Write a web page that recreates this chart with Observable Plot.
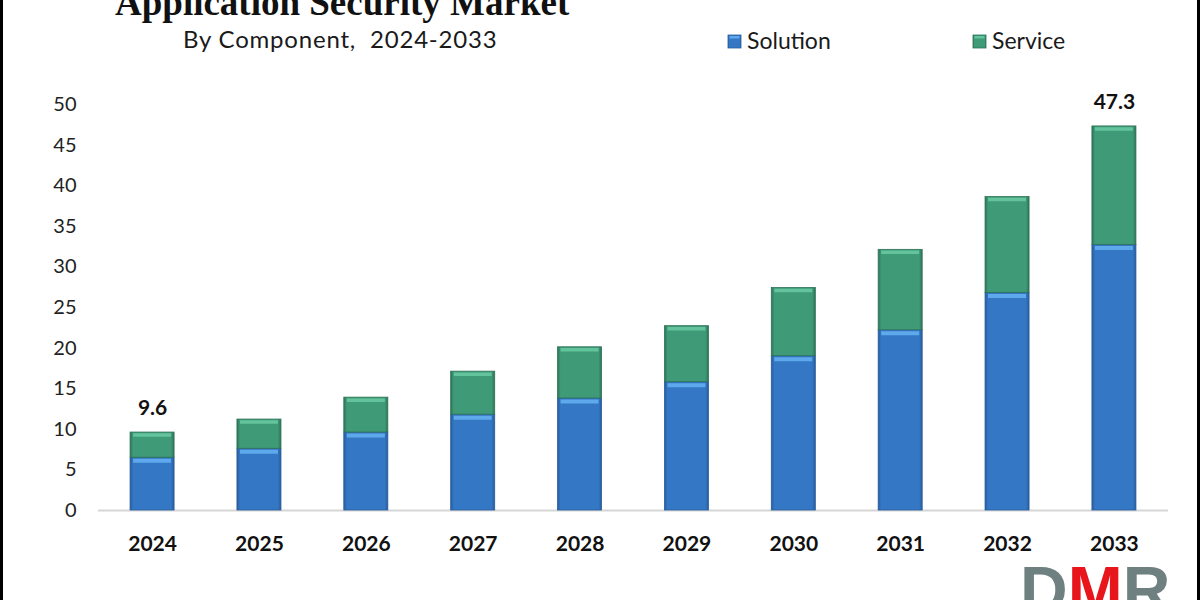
<!DOCTYPE html>
<html>
<head>
<meta charset="utf-8">
<script src="https://cdn.jsdelivr.net/npm/d3@7"></script>
<script src="https://cdn.jsdelivr.net/npm/@observablehq/plot@0.6"></script>
<style>
  html, body { margin: 0; padding: 0; background: #fff; overflow: hidden; }
  #wrap { position: relative; width: 1200px; height: 600px; overflow: hidden; background: #fff; }
  #chart { position: absolute; left: 0; top: 0; }
  #overlay { position: absolute; left: 0; top: 0; pointer-events: none; }
</style>
</head>
<body>
<div id="wrap">
  <div id="chart"></div>
  <svg id="overlay" width="1200" height="600" xmlns="http://www.w3.org/2000/svg"></svg>
</div>
<script>
// ---- data ----
const years = ["2024", "2025", "2026", "2027", "2028", "2029", "2030", "2031", "2032", "2033"];
const solution = [6.5, 7.6, 9.6, 11.8, 13.8, 15.8, 19.0, 22.2, 26.8, 32.7];
const service  = [3.1, 3.6, 4.3, 5.3, 6.3, 6.9, 8.4, 9.9, 11.8, 14.6];
const yTicks = [0, 5, 10, 15, 20, 25, 30, 35, 40, 45, 50];
const labelledYears = ["2024", "2033"];
const seriesNames = ["Solution", "Service"];
const titleText = "Application Security Market";
const subtitleText = "By Component,  2024-2033";

const rows = years.map((year, i) => ({
  year,
  solution: solution[i],
  service: service[i],
  total: Math.round((solution[i] + service[i]) * 10) / 10
}));

const C = {
  blue: "#3477c4", blueDark: "#285c9c", blueLight: "#5ea9ec",
  green: "#3f9a77", greenDark: "#2d7257", greenLight: "#63c39c"
};

// ---- overlay: gradients, title, legend, logo ----
const ov = d3.select("#overlay");
const defs = ov.append("defs");
function grad(id, dark, main) {
  const g = defs.append("linearGradient").attr("id", id)
    .attr("x1", "0").attr("x2", "1").attr("y1", "0").attr("y2", "0");
  [[0, dark], [0.07, main], [0.93, main], [1, dark]].forEach(([o, c]) =>
    g.append("stop").attr("offset", o).attr("stop-color", c));
}
grad("gBlue", C.blueDark, C.blue);
grad("gGreen", C.greenDark, C.green);

// ---- chart ----
const chart = Plot.plot({
  width: 1200,
  height: 600,
  marginTop: 104,
  marginBottom: 90,
  marginLeft: 98,
  marginRight: 32,
  style: { fontFamily: "Lato, 'Liberation Sans', sans-serif", color: "#1a1a1a", background: "transparent", overflow: "visible" },
  x: { type: "band", domain: years, paddingInner: 0.588, paddingOuter: 0.3, round: false, label: null },
  y: { domain: [0, 50], label: null },
  marks: [
    Plot.ruleY([0], { stroke: "#d6d6d6", strokeWidth: 2 }),
    Plot.barY(rows, { x: "year", y1: 0, y2: "solution", fill: "url(#gBlue)", stroke: C.blueDark, strokeWidth: 0.8 }),
    Plot.barY(rows, { x: "year", y1: "solution", y2: "total", fill: "url(#gGreen)", stroke: C.greenDark, strokeWidth: 0.8 }),
    Plot.tickY(rows, { x: "year", y: "solution", stroke: C.blueLight, strokeWidth: 4, dy: 3, inset: 3 }),
    Plot.tickY(rows, { x: "year", y: "total", stroke: C.greenLight, strokeWidth: 3.5, dy: 2.5, inset: 3 }),
    Plot.text(rows.filter(d => labelledYears.includes(d.year)), {
      x: "year", y: "total", text: d => d.total.toFixed(1), dy: -24,
      fontSize: 21, fontWeight: "bold", fill: "#111"
    }),
    Plot.axisX({ tickSize: 0, tickPadding: 26, fontSize: 21, fontWeight: "bold", fill: "#111", label: null }),
    Plot.axisY({ ticks: yTicks, tickSize: 0, tickPadding: 22, fontSize: 20, fill: "#222", label: null })
  ]
});
document.getElementById("chart").appendChild(chart);

// title & subtitle
ov.append("text").attr("x", 115).attr("y", 15)
  .attr("font-family", "'Liberation Serif', 'DejaVu Serif', serif")
  .attr("font-weight", "bold").attr("font-size", 37).attr("fill", "#111")
  .text(titleText);
ov.append("text").attr("x", 183).attr("y", 48)
  .attr("font-family", "Lato, 'Open Sans', sans-serif")
  .attr("font-size", 24).attr("letter-spacing", 0.8).attr("fill", "#1a1a1a")
  .attr("xml:space", "preserve").style("white-space", "pre")
  .text(subtitleText);

// legend
const legendItems = [
  { name: seriesNames[0], fill: "url(#gBlue)", stroke: C.blueDark, light: C.blueLight, x: 728 },
  { name: seriesNames[1], fill: "url(#gGreen)", stroke: C.greenDark, light: C.greenLight, x: 973 }
];
legendItems.forEach(it => {
  ov.append("rect").attr("x", it.x).attr("y", 35).attr("width", 13).attr("height", 13)
    .attr("fill", it.fill).attr("stroke", it.stroke).attr("stroke-width", 0.8);
  ov.append("rect").attr("x", it.x + 1.5).attr("y", 36).attr("width", 10).attr("height", 2.5)
    .attr("fill", it.light);
  ov.append("text").attr("x", it.x + 19).attr("y", 49)
    .attr("font-family", "Lato, 'Open Sans', sans-serif")
    .attr("font-size", 23).attr("fill", "#1a1a1a").text(it.name);
});

// logo
const logo = ov.append("text").attr("x", 1020).attr("y", 613)
  .attr("font-family", "'Liberation Sans', Arial, sans-serif")
  .attr("font-weight", "bold").attr("font-size", 66);
logo.append("tspan").attr("fill", "#6f8080").text("D");
logo.append("tspan").attr("fill", "#e8151b").text("M");
logo.append("tspan").attr("fill", "#6f8080").text("R");

// borders
ov.append("rect").attr("x", 0).attr("y", 0).attr("width", 3).attr("height", 600).attr("fill", "#000");
ov.append("rect").attr("x", 1197).attr("y", 0).attr("width", 3).attr("height", 600).attr("fill", "#000");
</script>
</body>
</html>
